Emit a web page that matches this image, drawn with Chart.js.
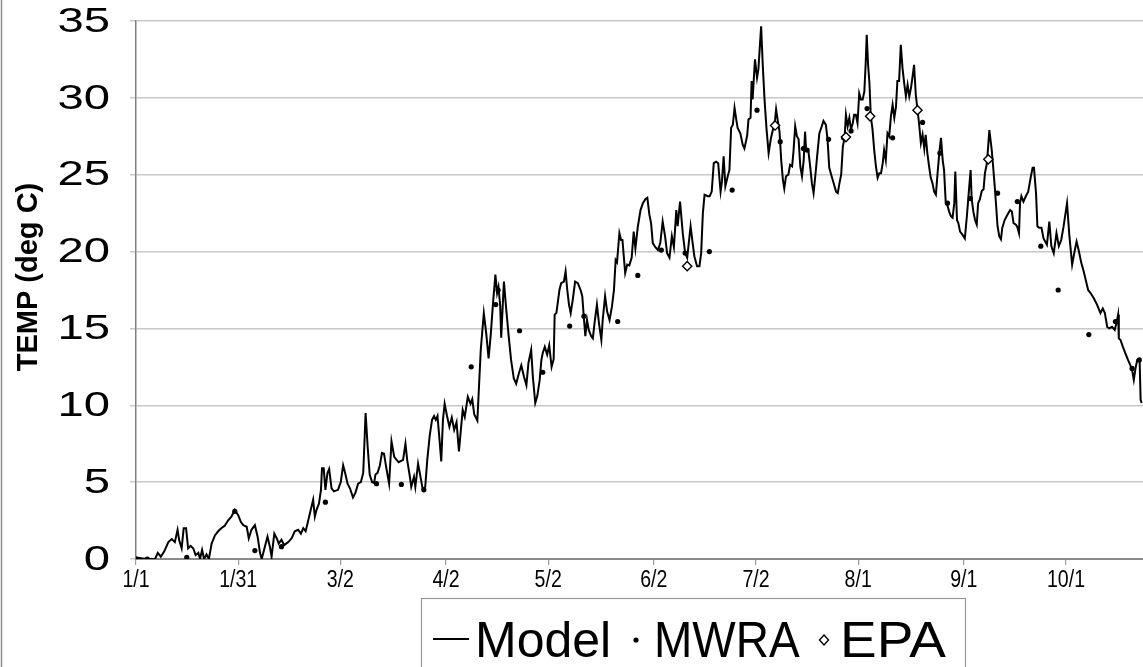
<!DOCTYPE html>
<html><head><meta charset="utf-8">
<script src="https://cdn.jsdelivr.net/npm/chart.js@4"></script>
<style>html,body{margin:0;padding:0;background:#fff;overflow:hidden}#wrap{width:1143px;height:667px;position:relative}</style>
</head><body><div id="wrap"><canvas id="c" width="1143" height="667"></canvas></div>
<script>
// ---- data (days since 1/1, temperature deg C) ----
const tickDays = [0, 30, 60, 91, 121, 152, 182, 212, 243, 273];
const tickLabels = ['1/1', '1/31', '3/2', '4/2', '5/2', '6/2', '7/2', '8/1', '9/1', '10/1'];

const modelDays = [0,3,5.6,6.4,7.3,8.3,9.5,10.5,11.4,12.2,12.7,13.4,14,14.7,15.3,16,16.8,17.5,18.3,18.8,19.4,20,20.7,21.4,22.2,23.2,24.3,25.3,26,27,28,29,30,
30.8,31.5,32.5,33.1,33.9,34.9,35.7,36.4,36.9,37.6,38.6,39.3,39.8,40.6,41.3,41.9,42.7,43.5,44.7,45.7,46.6,47.6,48.4,49.1,49.8,50.5,51.3,52,52.5,53,53.7,54.3,54.6,55.1,55.6,56.2,56.7,57.4,58.1,59.3,60.1,60.8,
61.4,62.1,62.8,63.7,64.4,65.2,66,66.7,67.4,68,68.6,69.3,69.9,70.3,70.9,71.6,72.2,72.8,73.5,74.3,75,75.8,76.5,77.1,78.4,79.1,79.6,80.4,80.8,81.6,82,82.8,83.3,84.2,84.9,85.5,86.2,86.9,87.5,88,88.5,89.1,89.6,90.1,90.6,
91.3,92,92.7,93.4,94.1,94.8,95.4,95.9,96.5,97.4,98.2,98.7,99.3,100.2,101.2,102.1,102.8,103.5,104.1,104.8,105.5,106,106.4,106.9,107.2,108,108.7,109.4,110.1,110.9,111.6,112.3,113.1,113.9,114.6,115.2,116,116.5,117.2,117.8,118.5,119,119.4,120,120.7,121.3,122,122.6,122.9,
123.4,124.3,124.8,125.6,126.1,126.6,127.1,127.6,128.2,128.9,129.7,130.5,131,131.4,131.9,132.4,132.9,133.6,134.1,134.6,135.3,135.9,136.6,137,137.7,138.3,139,139.7,140.3,140.8,141.2,141.9,142.4,142.8,143.2,143.6,144.2,144.8,145.5,146.1,146.6,147.3,148.1,148.8,
149.5,150.1,150.7,151.2,151.7,152.4,153.2,153.9,154.6,155.3,155.9,156.6,157.3,157.9,158.6,159,159.7,160.5,161.2,161.8,162.8,163.4,163.9,164.7,165.4,165.9,166.4,166.9,167.8,168.4,169,169.6,170.3,170.9,171.6,172,172.5,173,173.7,174.2,174.7,175.2,175.7,176.2,176.6,177.4,178.1,
178.6,179.4,179.8,180.4,180.7,181,181.7,182.3,182.7,183.5,184,184.5,185.1,185.7,186.4,187.1,187.6,187.9,188.4,188.9,189.4,189.9,190.3,190.8,191.5,192,192.6,193,193.5,194,194.5,195,195.5,196,196.4,196.7,197.4,197.9,198.4,198.9,199.4,199.9,200.6,201.3,201.8,202.5,203,203.5,204.2,204.8,205.5,206,206.5,
207,207.5,208,208.4,208.9,209.4,209.9,210.4,210.8,211.3,211.8,212.3,212.8,213.3,213.8,214.2,214.5,214.9,215.3,215.7,216.2,216.7,217.2,217.7,218.2,218.7,219.2,219.6,220.1,220.6,221.1,221.6,222.1,222.6,223.1,223.5,224,224.5,225,225.5,226,226.5,227,227.5,227.9,228.4,228.9,229.4,229.9,230.4,230.9,231.4,231.8,232.3,232.8,233.3,233.8,234.3,234.8,235.3,235.8,236.3,
236.8,237.2,237.7,238.2,238.7,239.2,239.7,240.2,240.5,241,241.4,241.9,242.6,243.3,243.9,244.6,245,245.3,245.8,246.3,246.8,247.2,247.7,248.3,248.8,249.2,249.7,250,250.5,251.2,251.6,252,252.5,252.9,253.4,253.9,254.3,255,255.8,256.6,257.1,257.6,258.3,258.7,259.2,259.5,259.9,260.5,261.2,261.9,262.7,263.2,263.6,264.2,264.6,265.1,265.8,266.4,
267.4,268.1,268.7,269.4,270.2,270.9,271.6,272.3,273.3,274,274.8,275.5,276.1,276.8,277.5,278.2,278.9,279.5,280.2,281.2,282.1,283.1,283.8,284.4,285.1,285.7,286.5,287.3,287.9,288.3,288.5,289,289.7,290.4,291.2,291.9,292.4,292.9,293.4,293.9,294.6,294.9,295.2];

const modelTemps = [0.1,0,0,0.4,0.15,0.5,1.1,1.3,1.1,1.9,1.2,0.7,2.0,2.0,0.7,0.85,0.7,0.25,0.4,0,0.6,0,0.3,0,1.0,1.55,1.85,2.05,2.15,2.5,2.75,3.2,2.85,
2.4,2.2,2.1,1.35,1.9,2.2,1.45,0.4,0,0.6,1.45,0.8,0.15,1.65,1.35,1.0,1.25,0.9,1.1,1.35,1.8,1.9,1.65,2.0,1.8,2.45,3.2,3.85,2.75,3.2,3.6,4.5,5.9,5.9,4.5,5.6,5.85,4.6,4.4,4.5,5.0,6.1,
5.6,4.9,4.6,4.0,4.3,4.9,5.0,5.6,9.5,7.3,5.5,5.0,4.95,5.5,5.6,6.1,6.9,6.85,5.9,4.9,7.65,6.65,6.45,6.3,6.45,7.5,6.45,5.35,4.7,5.35,4.7,6.2,5.6,4.5,4.7,6.45,8.0,9.05,9.3,9.05,9.3,7.75,6.35,9.05,10.1,
9.3,8.6,9.2,8.4,8.9,7.0,8.5,9.7,9.25,10.55,10.1,10.4,9.4,9.0,13.6,16.0,14.7,13.05,14.5,16.65,18.5,17.3,17.7,16.5,14.4,18.05,16.2,14.5,12.95,11.75,11.4,12.0,12.6,11.85,11.3,12.75,13.6,11.85,10.15,10.6,11.65,12.95,13.4,13.8,13.3,13.9,12.5,13.0,15.9,
16.0,17.5,17.95,18.05,18.7,17.5,16.55,16.0,16.85,18.05,17.95,17.5,17.1,15.9,14.5,15.55,14.9,14.5,14.35,15.35,16.55,15.35,14.25,15.55,17.1,16.1,15.55,16.4,17.5,19.45,19.3,21.2,20.75,20.75,19.65,18.6,19.15,19.1,19.6,21.3,20.2,21.6,22.7,23.15,
23.4,23.5,22.4,21.85,20.55,20.3,20.1,20.55,21.95,21.0,19.9,19.6,21.0,20.3,22.7,21.65,23.25,21.2,19.9,19.6,21.65,20.55,19.7,19.05,19.05,19.9,22.5,23.7,23.6,23.6,23.9,25.75,25.85,25.75,23.9,24.55,26.2,24.25,24.9,25.3,28.05,28.25,29.35,28.6,28.05,27.7,26.95,
26.7,27.55,28.6,28.7,31.1,29.9,32.5,31.3,31.85,34.65,32.05,29.9,27.95,26.4,27.4,28.05,28.6,29.25,28.5,27.8,25.95,24.65,24.1,24.9,25.0,25.65,25.55,26.5,28.15,27.5,27.3,25.55,24.9,25.95,27.8,26.6,26.5,25.55,24.45,23.8,24.9,26.1,27.7,28.15,28.5,28.25,27.3,25.45,24.9,24.45,23.9,23.8,24.45,
25.0,26.85,27.4,28.9,28.15,28.7,27.95,28.35,28.9,28.9,28.35,30.3,29.9,29.9,30.4,32.25,34.1,32.15,30.95,28.8,27.95,26.6,25.55,24.8,25.1,25.1,25.75,26.6,25.95,27.7,27.5,28.8,29.55,28.7,29.45,31.1,31.1,33.45,31.95,30.95,30.1,30.85,30.1,30.65,31.3,32.15,30.2,29.25,28.25,27.05,27.6,26.7,27.6,26.4,25.55,24.8,24.45,23.9,23.7,25.1,26.4,27.4,
25.95,25.3,23.15,23.0,22.6,22.3,22.2,23.15,25.2,22.05,21.85,21.3,21.1,20.85,22.3,24.25,25.3,23.45,22.6,22.05,21.75,23.15,23.4,23.95,24.05,25.1,25.65,26.4,27.9,26.6,25.55,24.45,22.95,21.65,21.0,20.8,21.55,22.05,22.4,22.7,22.6,21.85,21.75,21.6,21.2,23.15,23.6,23.25,23.6,23.9,24.9,25.45,25.45,23.8,21.65,21.55,21.55,20.85,
20.45,21.95,20.35,19.9,21.2,20.35,20.75,21.65,23.15,21.0,19.15,20.0,20.65,20.0,19.25,18.7,18.05,17.5,17.3,16.95,16.55,16.0,16.3,16.0,15.1,15.0,15.1,14.9,15.45,15.9,14.35,14.25,13.8,13.4,12.95,12.6,12.3,11.65,12.4,12.95,13.0,10.35,10.15];

const mwraDays  = [0, 3.3, 14.9, 29, 34.9, 42.7, 55.6, 70.6, 77.9, 84.5, 98.4, 105.6, 106.3, 112.6, 119.4, 127.3, 131.5, 141.4, 147.3, 154.2, 161.2, 168.3, 175, 182.3, 189.1, 195.9, 197, 203.3, 207.7, 209.9, 214.6, 222.1, 230.9, 236, 238.2, 244.9, 252.9, 258.7, 265.6, 270.7, 279.7, 287.5, 292.4, 294.5];
const mwraTemps = [0, 0, 0.1, 3.1, 0.55, 0.8, 3.7, 4.9, 4.85, 4.5, 12.5, 16.55, 17.5, 14.85, 12.15, 15.15, 15.8, 15.45, 18.45, 20.1, 19.9, 20.0, 24.0, 29.2, 27.15, 26.7, 26.6, 27.3, 27.4, 27.85, 29.3, 27.4, 28.4, 26.4, 23.15, 23.45, 23.8, 23.25, 20.35, 17.5, 14.6, 15.45, 12.4, 12.95];

const epaDays  = [161.8, 187.6, 208.4, 215.5, 229.4, 250.2];
const epaTemps = [19.05, 28.2, 27.45, 28.8, 29.2, 26.0];

const yTitle = 'TEMP (deg C)';
const legendNames = ['Model', 'MWRA', 'EPA'];

// ---- build datasets ----
const toXY = (xs, ys) => xs.map((x, i) => ({x: x, y: ys[i]}));
const FONT = "'Liberation Sans', Arial, sans-serif";

function stretchedText(c, text, x, y, sx, align) {
  c.save();
  c.translate(x, y);
  c.scale(sx, 1);
  c.textAlign = align;
  c.fillText(text, 0, 0);
  c.restore();
}

const decor = {
  id: 'decor',
  beforeDraw(chart) {
    const c = chart.ctx;
    c.save(); c.fillStyle = '#fff'; c.fillRect(0, 0, chart.width, chart.height); c.restore();
  },
  afterDraw(chart) {
    const c = chart.ctx;
    const xs = chart.scales.x, ys = chart.scales.y;
    c.save();
    // outer frame (left edge)
    c.strokeStyle = '#8c8c8c'; c.lineWidth = 1.5;
    c.beginPath(); c.moveTo(1.5, 0); c.lineTo(1.5, chart.height); c.stroke();

    // y tick labels (positions from the library scale)
    c.fillStyle = '#000';
    c.font = "35px " + FONT;
    c.textBaseline = 'middle';
    ys.ticks.forEach(t => stretchedText(c, String(t.value), 110, ys.getPixelForValue(t.value) + 1, 1.35, 'right'));

    // x tick labels
    c.font = "23px " + FONT;
    c.textBaseline = 'top';
    xs.ticks.forEach(t => {
      const i = tickDays.indexOf(t.value);
      if (i >= 0) stretchedText(c, tickLabels[i], xs.getPixelForValue(t.value), 569, 0.85, 'center');
    });

    // y title
    c.font = "bold 29px " + FONT;
    c.textAlign = 'center'; c.textBaseline = 'middle';
    c.translate(29, 277); c.rotate(-Math.PI / 2);
    c.fillText(yTitle, 0, 0);
    c.restore();

    // legend
    c.save();
    c.strokeStyle = '#9a9a9a'; c.lineWidth = 1.2;
    c.strokeRect(421.5, 598.5, 544, 80);
    c.fillStyle = '#000';
    c.font = "50px " + FONT;
    c.textBaseline = 'alphabetic'; c.textAlign = 'left';
    const base = 657;
    c.strokeStyle = '#000'; c.lineWidth = 2;
    c.beginPath(); c.moveTo(433, 639); c.lineTo(469, 639); c.stroke();
    c.fillText(legendNames[0], 475, base);
    c.beginPath(); c.arc(636, 640, 2.6, 0, Math.PI * 2); c.fill();
    stretchedText(c, legendNames[1], 654, base, 0.92, 'left');
    c.beginPath();
    c.moveTo(824, 635); c.lineTo(828.5, 640); c.lineTo(824, 645); c.lineTo(819.5, 640); c.closePath();
    c.fillStyle = '#fff'; c.fill();
    c.strokeStyle = '#000'; c.lineWidth = 1.4; c.stroke();
    c.fillStyle = '#000';
    stretchedText(c, legendNames[2], 840, base, 1.1, 'left');
    c.restore();
  }
};

new Chart(document.getElementById('c'), {
  type: 'line',
  data: {
    datasets: [
      {label: 'Model', data: toXY(modelDays, modelTemps), borderColor: '#000', borderWidth: 2, pointRadius: 0, tension: 0, fill: false, order: 3},
      {label: 'MWRA', data: toXY(mwraDays, mwraTemps), showLine: false, pointRadius: 2.6, pointStyle: 'circle', pointBackgroundColor: '#000', pointBorderColor: '#000', pointBorderWidth: 0, order: 2},
      {label: 'EPA', data: toXY(epaDays, epaTemps), showLine: false, pointRadius: 4.6, pointStyle: 'rectRot', pointBackgroundColor: '#fff', pointBorderColor: '#000', pointBorderWidth: 1.4, order: 1}
    ]
  },
  options: {
    responsive: false,
    animation: false,
    devicePixelRatio: 1,
    layout: {autoPadding: false, padding: {top: 21, right: 0, bottom: 68, left: 0}},
    plugins: {legend: {display: false}, tooltip: {enabled: false}},
    scales: {
      x: {
        type: 'linear', min: 0, max: 295.6,
        afterFit(s) { s.height = 40; s.paddingLeft = 0; s.paddingRight = 0; },
        afterBuildTicks(s) { s.ticks = tickDays.map(v => ({value: v})); },
        grid: {display: true, drawOnChartArea: false, drawTicks: true, tickLength: 6, color: '#9a9a9a', lineWidth: 1.2},
        border: {display: true, color: '#8a8a8a', width: 2},
        ticks: {display: false, autoSkip: false, maxRotation: 0}
      },
      y: {
        min: 0, max: 35,
        afterFit(s) { s.width = 136; s.paddingTop = 0; s.paddingBottom = 0; },
        grid: {color: '#c8c8c8', lineWidth: 1.5, drawTicks: true, tickLength: 6},
        border: {display: true, color: '#808080', width: 1.5},
        ticks: {display: false, stepSize: 5}
      }
    }
  },
  plugins: [decor]
});
</script></body></html>
